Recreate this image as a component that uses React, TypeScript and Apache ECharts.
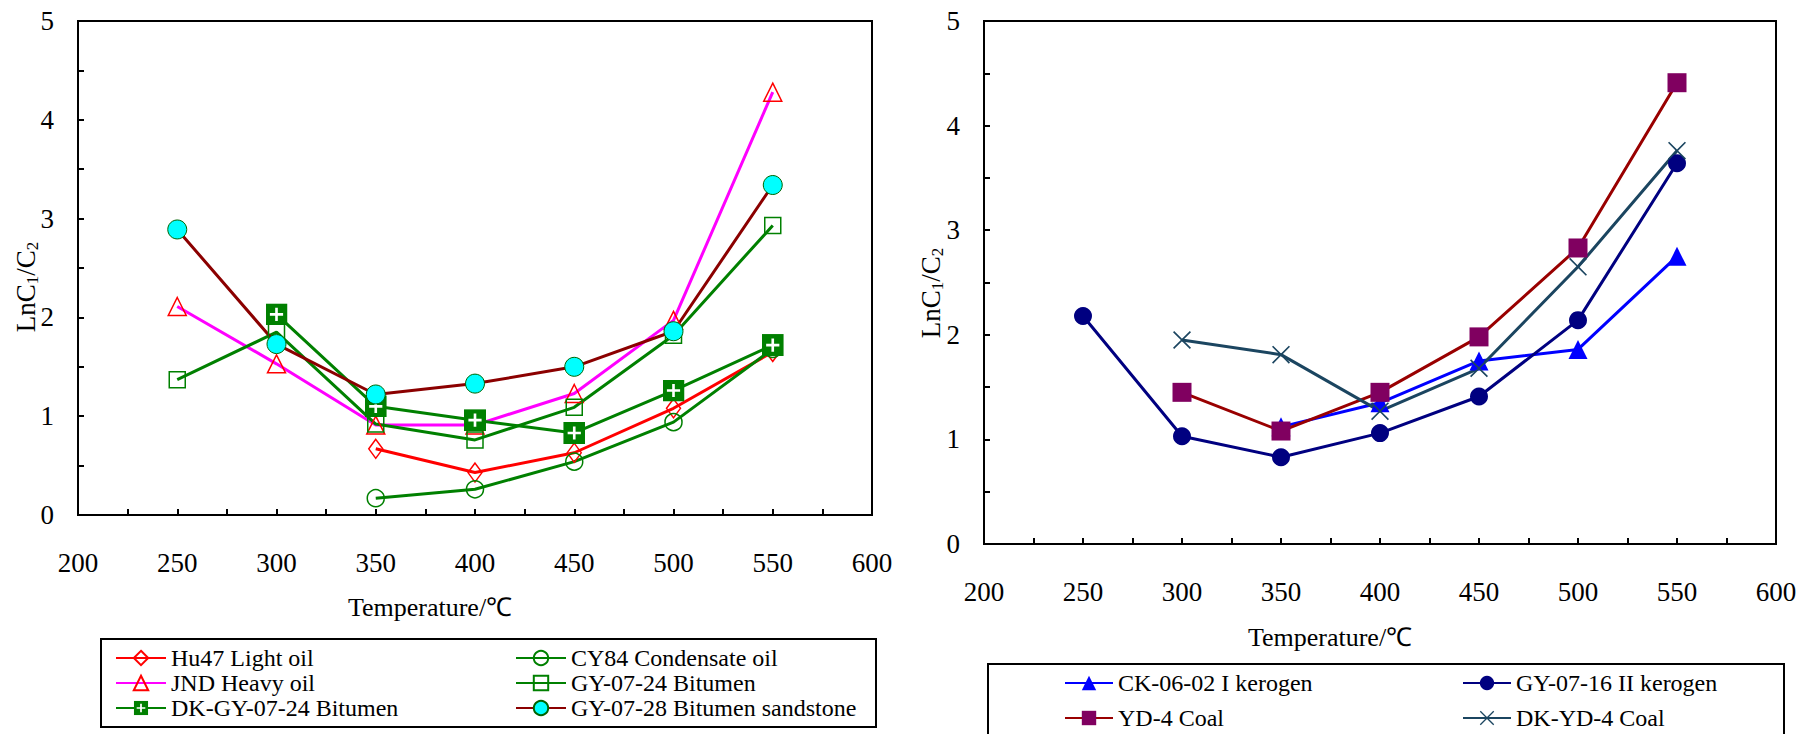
import React, { useEffect, useRef } from 'react';
import * as echarts from 'echarts';

const FONT = '"Liberation Serif", "Times New Roman", serif';

// Temperatures (°C)
const temps = [250, 300, 350, 400, 450, 500, 550];

// Left panel: oils & bitumens
const hu47Light = [null, null, 0.67, 0.43, 0.63, 1.08, 1.65];
const cy84Condensate = [null, null, 0.17, 0.26, 0.54, 0.94, 1.68];
const jndHeavy = [2.11, 1.53, 0.91, 0.91, 1.23, 1.97, 4.28];
const gy0724Bitumen = [1.37, 1.85, 0.92, 0.76, 1.09, 1.82, 2.93];
const dkGy0724Bitumen = [null, 2.03, 1.1, 0.96, 0.83, 1.26, 1.72];
const gy0728Sandstone = [2.89, 1.73, 1.22, 1.33, 1.5, 1.86, 3.34];

// Right panel: kerogens & coals
const ck0602Kerogen = [null, null, 1.12, 1.35, 1.75, 1.86, 2.75];
const gy0716Kerogen = [2.18, 1.03, 0.83, 1.06, 1.41, 2.14, 3.64];
const yd4Coal = [null, 1.45, 1.08, 1.45, 1.98, 2.83, 4.41];
const dkYd4Coal = [null, 1.95, 1.81, 1.27, 1.68, 2.65, 3.76];

const xTickLabels = [200, 250, 300, 350, 400, 450, 500, 550, 600];
const yTickLabels = [0, 1, 2, 3, 4, 5];

const pairs = (vals: (number | null)[]) =>
  temps.map((t, i) => [t, vals[i]]).filter((p) => p[1] !== null);

const plusSvg =
  "<svg xmlns='http://www.w3.org/2000/svg' width='20' height='20'><rect x='0' y='0' width='20' height='20' fill='#008000'/><path d='M10 4V16M4 10H16' stroke='#ffffff' stroke-width='2.4' fill='none'/></svg>";
const plusSymbol = 'image://data:image/svg+xml;charset=utf-8,' + encodeURIComponent(plusSvg);
const xSymbol =
  'path://M0,1.3L1.3,0L10,8.7L18.7,0L20,1.3L11.3,10L20,18.7L18.7,20L10,11.3L1.3,20L0,18.7L8.7,10Z';

const HOLLOW = 'rgba(0,0,0,0)';

function mk(
  name: string,
  vals: (number | null)[],
  idx: number,
  lineColor: string,
  symbol: string,
  size: number | number[],
  itemStyle: any
) {
  return {
    type: 'line',
    name,
    xAxisIndex: idx,
    yAxisIndex: idx,
    data: pairs(vals),
    symbol,
    symbolSize: size,
    showSymbol: true,
    lineStyle: { color: lineColor, width: 3 },
    itemStyle,
    emphasis: { disabled: true },
    silent: true,
  };
}

function xAxis(idx: number) {
  return {
    type: 'value',
    gridIndex: idx,
    min: 200,
    max: 600,
    interval: 25,
    axisLine: { show: true, onZero: false, lineStyle: { color: '#000', width: 2 } },
    axisTick: { show: true, inside: true, length: 6, lineStyle: { color: '#000', width: 2 } },
    axisLabel: {
      margin: 34,
      fontSize: 27,
      fontFamily: FONT,
      color: '#000',
      formatter: (v: number) => (xTickLabels.includes(v) ? String(v) : ''),
    },
    splitLine: { show: false },
  };
}

function yAxis(idx: number) {
  return {
    type: 'value',
    gridIndex: idx,
    min: 0,
    max: 5,
    interval: 0.5,
    axisLine: { show: true, onZero: false, lineStyle: { color: '#000', width: 2 } },
    axisTick: { show: true, inside: true, length: 6, lineStyle: { color: '#000', width: 2 } },
    axisLabel: {
      margin: 24,
      fontSize: 27,
      fontFamily: FONT,
      color: '#000',
      formatter: (v: number) => (yTickLabels.includes(v) ? String(v) : ''),
    },
    splitLine: { show: false },
  };
}

function legendItem(name: string, left: number, top: number, itemWidth: number) {
  return {
    left,
    top,
    orient: 'horizontal',
    padding: 0,
    itemWidth,
    itemHeight: 18,
    selectedMode: false,
    data: [name],
    textStyle: { fontFamily: FONT, fontSize: 24, color: '#000' },
  };
}

function yTitle(x: number, y: number) {
  return {
    type: 'text',
    x,
    y,
    rotation: Math.PI / 2,
    style: {
      text: '{a|LnC}{b|1}{a|/C}{b|2}',
      rich: {
        a: { fontSize: 27, fontFamily: FONT, fill: '#000' },
        b: { fontSize: 17, fontFamily: FONT, fill: '#000', padding: [12, 0, 0, 0] },
      },
      align: 'center',
      verticalAlign: 'middle',
      fill: '#000',
    },
  };
}

function xTitle(x: number, y: number) {
  return {
    type: 'text',
    x,
    y,
    style: {
      text: 'Temperature/℃',
      fontSize: 26,
      fontFamily: FONT,
      fill: '#000',
      align: 'center',
      verticalAlign: 'middle',
    },
  };
}

export default function App() {
  const ref = useRef<HTMLDivElement>(null);
  useEffect(() => {
    if (!ref.current) return;
    const chart = echarts.init(ref.current, undefined, { renderer: 'svg' });
    const option: any = {
      animation: false,
      backgroundColor: '#fff',
      grid: [
        { left: 78, top: 21, width: 794, height: 494, show: true, borderColor: '#000', borderWidth: 2 },
        { left: 984, top: 21, width: 792, height: 523, show: true, borderColor: '#000', borderWidth: 2 },
      ],
      xAxis: [xAxis(0), xAxis(1)],
      yAxis: [yAxis(0), yAxis(1)],
      legend: [
        legendItem('Hu47 Light oil', 115, 646, 50),
        legendItem('JND Heavy oil', 115, 671, 50),
        legendItem('DK-GY-07-24 Bitumen', 115, 696, 50),
        legendItem('CY84 Condensate oil', 515, 646, 50),
        legendItem('GY-07-24 Bitumen', 515, 671, 50),
        legendItem('GY-07-28 Bitumen sandstone', 515, 696, 50),
        legendItem('CK-06-02 I kerogen', 1064, 671, 48),
        legendItem('YD-4 Coal', 1064, 706, 48),
        legendItem('GY-07-16 II kerogen', 1462, 671, 48),
        legendItem('DK-YD-4 Coal', 1462, 706, 48),
      ],
      graphic: [
        { type: 'rect', shape: { x: 101, y: 639, width: 775, height: 88 }, style: { fill: 'none', stroke: '#000', lineWidth: 2 } },
        { type: 'rect', shape: { x: 988, y: 664, width: 796, height: 90 }, style: { fill: 'none', stroke: '#000', lineWidth: 2 } },
        yTitle(26, 287),
        yTitle(931, 293),
        xTitle(430, 607),
        xTitle(1330, 637),
      ],
      series: [
        mk('Hu47 Light oil', hu47Light, 0, '#FF0000', 'diamond', [14, 19], { color: HOLLOW, borderColor: '#FF0000', borderWidth: 1.5 }),
        mk('CY84 Condensate oil', cy84Condensate, 0, '#008000', 'circle', 17, { color: HOLLOW, borderColor: '#008000', borderWidth: 1.5 }),
        mk('JND Heavy oil', jndHeavy, 0, '#FF00FF', 'triangle', 18, { color: HOLLOW, borderColor: '#FF0000', borderWidth: 1.5 }),
        mk('GY-07-24 Bitumen', gy0724Bitumen, 0, '#008000', 'rect', 16, { color: HOLLOW, borderColor: '#008000', borderWidth: 1.5 }),
        mk('DK-GY-07-24 Bitumen', dkGy0724Bitumen, 0, '#008000', plusSymbol, 22, { color: '#008000' }),
        mk('GY-07-28 Bitumen sandstone', gy0728Sandstone, 0, '#8B0000', 'circle', 19, { color: '#00FFFF', borderColor: '#006400', borderWidth: 1 }),
        mk('CK-06-02 I kerogen', ck0602Kerogen, 1, '#0000FF', 'triangle', 19, { color: '#0000FF' }),
        mk('GY-07-16 II kerogen', gy0716Kerogen, 1, '#000080', 'circle', 18, { color: '#000080' }),
        mk('YD-4 Coal', yd4Coal, 1, '#990000', 'rect', 19, { color: '#800060' }),
        mk('DK-YD-4 Coal', dkYd4Coal, 1, '#1B4560', xSymbol, 18, { color: '#1B4560' }),
      ],
    };
    chart.setOption(option);
    return () => chart.dispose();
  }, []);
  return (
    <div
      ref={ref}
      style={{ position: 'fixed', left: 0, top: 0, width: 1803, height: 734, background: '#fff' }}
    />
  );
}
